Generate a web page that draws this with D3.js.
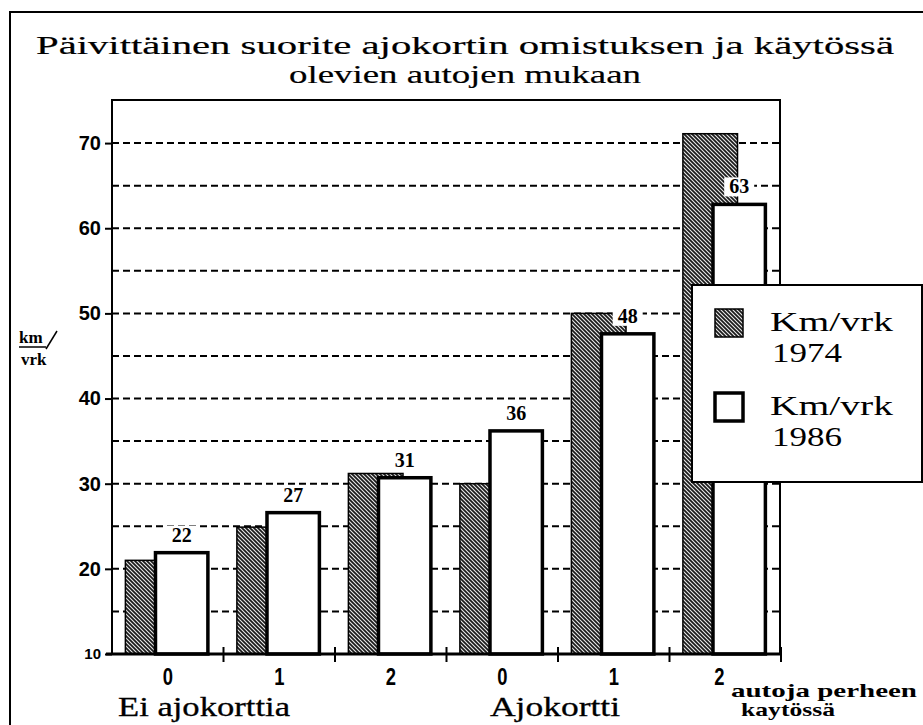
<!DOCTYPE html>
<html>
<head>
<meta charset="utf-8">
<style>
  body { margin: 0; background: #fff; }
  svg { display: block; }
</style>
</head>
<body>
<svg id="chart" width="923" height="725"></svg>
<script src="https://d3js.org/d3.v7.min.js"></script>
<script>
  // data
  var groups = ["Ei ajokorttia", "Ajokortti"]
  var carCounts = ["0", "1", "2", "0", "1", "2"]
  var km1974 = [21, 24.9, 31.2, 30, 50, 71.1]
  var km1986 = [21.9, 26.6, 30.7, 36.2, 47.6, 62.8]
  var labels1986 = ["22", "27", "31", "36", "48", "63"]
  var yTicks = [10, 20, 30, 40, 50, 60, 70]
  var gridValues = [15, 20, 25, 30, 35, 40, 45, 50, 55, 60, 65, 70]
  var legendItems = [["Km/vrk", "1974"], ["Km/vrk", "1986"]]

  var svg = d3.select("#chart")
  var plot = {left: 112, right: 780, top: 100, bottom: 654}
  var serif = "'Liberation Serif', 'DejaVu Serif', serif"
  var sans = "'Liberation Sans', Arial, sans-serif"

  // hatch pattern
  var defs = svg.append("defs")
  var pat = defs.append("pattern")
    .attr("id", "hatch")
    .attr("patternUnits", "userSpaceOnUse")
    .attr("width", 4).attr("height", 4)
  pat.append("rect").attr("width", 4).attr("height", 4).attr("fill", "#1a1a1a")
  pat.append("path")
    .attr("d", "M-1,-1 L5,5 M-1,3 L1,5 M3,-1 L5,1")
    .attr("stroke", "#e8e8e8").attr("stroke-width", 1.1)

  // outer frame (top and left)
  svg.append("path")
    .attr("d", "M10,725 L10,12 L923,12")
    .attr("fill", "none").attr("stroke", "#000").attr("stroke-width", 2)

  // title
  var title = ["Päivittäinen suorite ajokortin omistuksen ja käytössä", "olevien autojen mukaan"]
  var titleWidths = [858, 352]
  title.forEach((t, i) => {
    svg.append("text")
      .attr("x", 465).attr("y", 54 + i * 29)
      .attr("text-anchor", "middle")
      .attr("font-family", serif)
      .attr("font-size", 26)
      .attr("stroke", "#000").attr("stroke-width", 0.2)
      .attr("textLength", titleWidths[i])
      .attr("lengthAdjust", "spacingAndGlyphs")
      .text(t)
  })

  // scales
  var x = d3.scaleBand().domain(d3.range(carCounts.length)).range([plot.left, plot.right + 1]).padding(0)
  var y = d3.scaleLinear().domain([10, 75.06]).range([plot.bottom, plot.top])
  var bw = x.bandwidth()

  // gridlines
  svg.append("g").selectAll("line")
    .data(gridValues)
    .join("line")
    .attr("x1", plot.left).attr("x2", plot.right)
    .attr("y1", d => y(d)).attr("y2", d => y(d))
    .attr("stroke", "#000").attr("stroke-width", 2)
    .attr("stroke-dasharray", "7,4")

  // y axis
  var yAxis = svg.append("g")
    .attr("transform", "translate(" + plot.left + ",0)")
    .call(d3.axisLeft(y).tickValues(yTicks).tickSize(7).tickPadding(4))
  yAxis.select(".domain").remove()
  yAxis.selectAll("line").attr("stroke-width", 2)
  yAxis.selectAll("text")
    .attr("font-family", sans)
    .attr("font-weight", "bold")
    .attr("font-size", d => d === 10 ? 15 : 20)
    .attr("fill", "#000")

  // y label
  var yl = svg.append("g").attr("font-family", serif).attr("font-weight", "bold").attr("font-size", 17)
  yl.append("text").attr("x", 19).attr("y", 343).text("km")
  yl.append("line").attr("x1", 19).attr("x2", 46).attr("y1", 347).attr("y2", 347).attr("stroke", "#000").attr("stroke-width", 1.5)
  yl.append("line").attr("x1", 46).attr("x2", 57).attr("y1", 349).attr("y2", 331).attr("stroke", "#000").attr("stroke-width", 1.5)
  yl.append("text").attr("x", 21).attr("y", 365).text("vrk")

  // bars 1974 (hatched, behind)
  svg.append("g").selectAll("rect")
    .data(km1974)
    .join("rect")
    .attr("x", (d, i) => x(i) + bw * 0.12)
    .attr("width", bw * 0.49)
    .attr("y", d => y(d))
    .attr("height", d => y(10) - y(d))
    .attr("fill", "url(#hatch)")
    .attr("stroke", "#000").attr("stroke-width", 1.5)

  // bars 1986 (white, in front)
  svg.append("g").selectAll("rect")
    .data(km1986)
    .join("rect")
    .attr("x", (d, i) => x(i) + bw * 0.39)
    .attr("width", bw * 0.47)
    .attr("y", d => y(d))
    .attr("height", d => y(10) - y(d))
    .attr("fill", "#fff")
    .attr("stroke", "#000").attr("stroke-width", 3.5)

  // value labels with white background
  var lab = svg.append("g").selectAll("g")
    .data(km1986)
    .join("g")
    .attr("transform", (d, i) => "translate(" + (x(i) + bw * 0.625) + "," + (y(d) - 11) + ")")
  lab.append("rect")
    .attr("x", -15).attr("y", -16).attr("width", 30).attr("height", 19)
    .attr("fill", "#fff")
  lab.append("text")
    .attr("text-anchor", "middle")
    .attr("font-family", serif)
    .attr("font-weight", "bold")
    .attr("font-size", 20)
    .text((d, i) => labels1986[i])

  // plot frame
  svg.append("rect")
    .attr("x", plot.left).attr("y", plot.top)
    .attr("width", plot.right - plot.left).attr("height", plot.bottom - plot.top)
    .attr("fill", "none").attr("stroke", "#000").attr("stroke-width", 2)
  svg.append("line")
    .attr("x1", plot.left - 6).attr("x2", plot.right + 1)
    .attr("y1", plot.bottom).attr("y2", plot.bottom)
    .attr("stroke", "#000").attr("stroke-width", 3)

  // x axis ticks at band edges
  var edges = d3.range(carCounts.length).map(i => x(i) + bw)
  svg.append("g").selectAll("line")
    .data(edges)
    .join("line")
    .attr("x1", d => d).attr("x2", d => d)
    .attr("y1", plot.bottom - 7).attr("y2", plot.bottom + 8)
    .attr("stroke", "#000").attr("stroke-width", 2)

  // category labels (narrowed digits)
  svg.append("g").selectAll("text")
    .data(carCounts)
    .join("text")
    .attr("transform", (d, i) => "translate(" + (x(i) + bw / 2 - (i === carCounts.length - 1 ? 6 : 0)) + ",685) scale(0.8,1)")
    .attr("text-anchor", "middle")
    .attr("font-family", sans)
    .attr("font-weight", "bold")
    .attr("font-size", 23)
    .text(d => d)

  // group labels
  var groupX = [204, 555]
  var groupW = [172, 130]
  svg.append("g").selectAll("text")
    .data(groups)
    .join("text")
    .attr("x", (d, i) => groupX[i])
    .attr("y", 716)
    .attr("text-anchor", "middle")
    .attr("font-family", serif)
    .attr("font-size", 27)
    .attr("stroke", "#000").attr("stroke-width", 0.3)
    .attr("textLength", (d, i) => groupW[i])
    .attr("lengthAdjust", "spacingAndGlyphs")
    .text(d => d)

  var unit = svg.append("g").attr("font-family", serif).attr("font-weight", "bold").attr("font-size", 19)
  unit.append("text").attr("x", 731).attr("y", 697)
    .attr("textLength", 186).attr("lengthAdjust", "spacingAndGlyphs").text("autoja perheen")
  unit.append("text").attr("x", 741).attr("y", 716)
    .attr("textLength", 94).attr("lengthAdjust", "spacingAndGlyphs").text("kaytössä")

  // legend
  var leg = svg.append("g").attr("transform", "translate(692,285)")
  leg.append("rect").attr("width", 230).attr("height", 197)
    .attr("fill", "#fff").attr("stroke", "#000").attr("stroke-width", 2)
  var li = leg.selectAll("g.item")
    .data(legendItems)
    .join("g")
    .attr("class", "item")
    .attr("transform", (d, i) => "translate(0," + (i * 84) + ")")
  li.append("rect")
    .attr("x", 23).attr("y", 24).attr("width", 28).attr("height", 28)
    .attr("fill", (d, i) => i === 0 ? "url(#hatch)" : "#fff")
    .attr("stroke", "#000").attr("stroke-width", (d, i) => i === 0 ? 1.5 : 3.5)
  li.append("text")
    .attr("x", 78).attr("y", 46)
    .attr("font-family", serif).attr("font-size", 27)
    .attr("textLength", 123).attr("lengthAdjust", "spacingAndGlyphs")
    .text(d => d[0])
  li.append("text")
    .attr("x", 80).attr("y", 77)
    .attr("font-family", serif).attr("font-size", 27)
    .attr("textLength", 70).attr("lengthAdjust", "spacingAndGlyphs")
    .text(d => d[1])
</script>
</body>
</html>
